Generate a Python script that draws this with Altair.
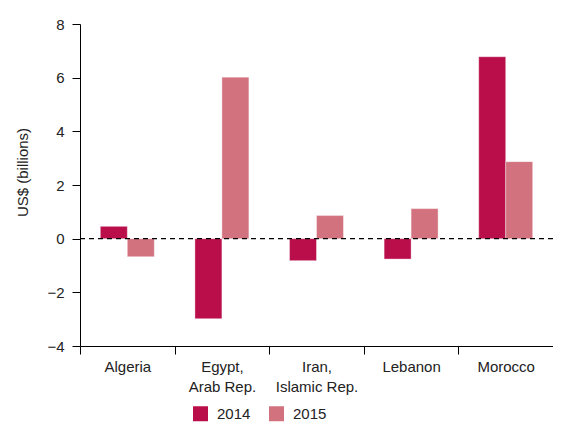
import altair as alt
import pandas as pd

categories = ["Algeria", "Egypt, Arab Rep.", "Iran, Islamic Rep.", "Lebanon", "Morocco"]
years = ["2014", "2015"]
v2014 = [0.46, -2.98, -0.82, -0.76, 6.78]
v2015 = [-0.67, 6.02, 0.86, 1.12, 2.87]
colors = ["#BA0E4B", "#D2727E"]
y_ticks = [-4, -2, 0, 2, 4, 6, 8]

rows = []
for c, a, b in zip(categories, v2014, v2015):
    rows.append({"country": c, "year": years[0], "value": a})
    rows.append({"country": c, "year": years[1], "value": b})
df = pd.DataFrame(rows)

FONT = "Liberation Sans"
TXT = "#222222"

bars = alt.Chart(df).mark_bar(stroke="white", strokeWidth=0.6, strokeOpacity=0.6).encode(
    x=alt.X(
        "country:N",
        sort=categories,
        scale=alt.Scale(paddingInner=0, paddingOuter=0),
        axis=alt.Axis(
            title=None,
            labelAngle=0,
            tickBand="extent",
            tickSize=8,
            labelPadding=5,
            labelFontSize=15,
            labelLineHeight=20,
            labelFont=FONT,
            labelColor=TXT,
            domainColor="black",
            tickColor="black",
            grid=False,
            labelExpr="split(replace(datum.label, ', ', ',|'), '|')",
        ),
    ),
    xOffset=alt.XOffset("year:N", scale=alt.Scale(paddingInner=0, paddingOuter=0.754)),
    y=alt.Y(
        "value:Q",
        scale=alt.Scale(domain=[-4, 8], nice=False, zero=False),
        axis=alt.Axis(
            values=y_ticks,
            title="US$ (billions)",
            titleFont=FONT,
            titleFontSize=15,
            titleFontWeight="normal",
            titleColor=TXT,
            titleX=-58,
            titleY=148,
            titleBaseline="middle",
            grid=False,
            tickSize=8,
            labelPadding=8,
            labelFontSize=15,
            labelFont=FONT,
            labelColor=TXT,
            domainColor="black",
            tickColor="black",
        ),
    ),
    color=alt.Color(
        "year:N",
        scale=alt.Scale(domain=years, range=colors),
        legend=alt.Legend(
            title=None,
            orient="none",
            legendX=113,
            legendY=382,
            direction="horizontal",
            symbolType="square",
            symbolSize=225,
            symbolStrokeWidth=0,
            labelFontSize=15,
            labelFont=FONT,
            labelColor=TXT,
            labelOffset=9,
            columnPadding=18,
        ),
    ),
)

zero_rule = alt.Chart(pd.DataFrame({"value": [0]})).mark_rule(
    color="black", strokeDash=[5, 4], strokeWidth=1.3
).encode(y="value:Q")

chart = (
    alt.layer(bars, zero_rule)
    .properties(
        width=473,
        height=322,
        padding={"left": 72, "top": 16, "right": 0, "bottom": 76},
        autosize=alt.AutoSizeParams(type="none"),
        background="white",
    )
    .configure_view(stroke=None, strokeWidth=0)
    .configure_axis(grid=False)
)

chart.save("out.html", embed_options={"renderer": "svg", "actions": False})
